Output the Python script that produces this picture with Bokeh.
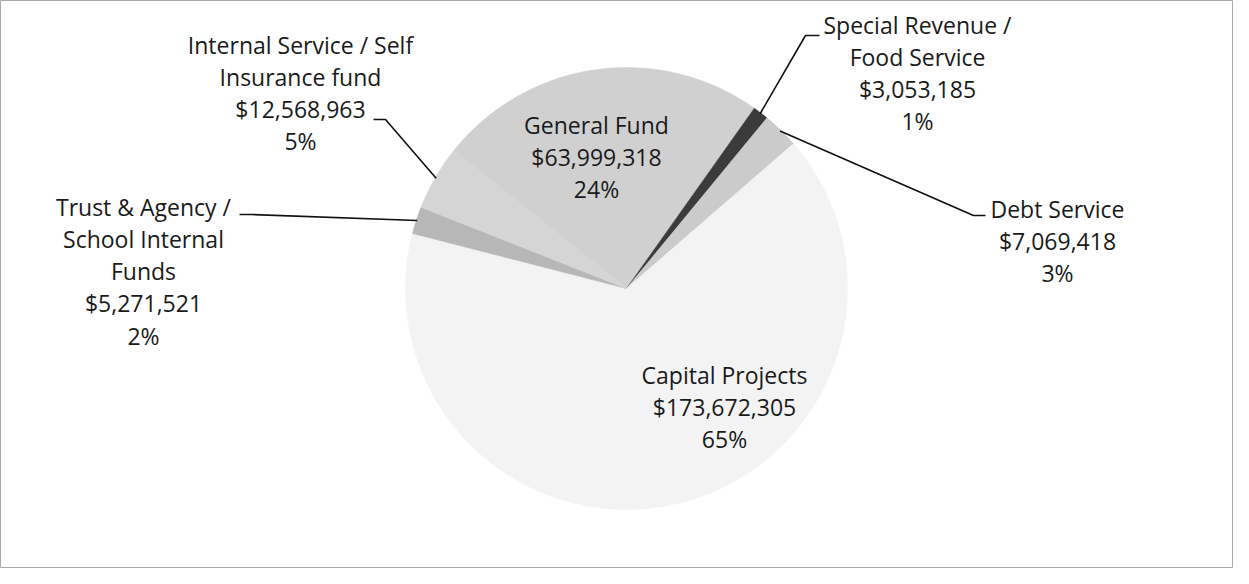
import numpy as np
from bokeh.plotting import figure
from bokeh.models import Range1d
from bokeh.core.properties import value
from bokeh.embed import file_html
from bokeh.resources import INLINE

# ---- data ----
categories = [
    "General Fund",
    "Special Revenue /\nFood Service",
    "Debt Service",
    "Capital Projects",
    "Trust & Agency /\nSchool Internal\nFunds",
    "Internal Service / Self\nInsurance fund",
]
amounts = [63999318, 3053185, 7069418, 173672305, 5271521, 12568963]
colors = ["#d0d0d0", "#3b3b3b", "#cbcbcb", "#f3f3f3", "#b7b7b7", "#d5d5d5"]

# ---- layout constants (pixel-like data coordinates) ----
W, H = 1233, 568
CX, CY, R = 634, 296, 221
START_DEG = -51.4          # clockwise from 12 o'clock
FONT = "Open Sans"
FSIZE = "23px"
LINE_H = 32.3
label_pos = [(604, 132), (925, 32), (1065, 216), (732, 382), (151, 214), (308, 52)]
# leader elbows (tick start, tick end) for outside labels, None for inside ones
leader_ticks = [None, ((827, 43), (813, 43)), ((993, 223), (981, 223)), None,
                ((247, 222), (259, 222)), ((381, 127), (393, 127))]

p = figure(width=W, height=H, output_backend="svg", toolbar_location=None,
           x_range=Range1d(8, 8 + W), y_range=Range1d(8 + H, 8),
           min_border=0)
p.axis.visible = False
p.grid.visible = False
p.outline_line_color = "#a8a8a8"
p.outline_line_width = 1
p.background_fill_color = "white"
p.border_fill_color = "white"

total = float(sum(amounts))
fracs = np.array(amounts) / total
ends = START_DEG + 360 * np.cumsum(fracs)
starts = ends - 360 * fracs

xs, ys = [], []
for s, e in zip(starts, ends):
    t = np.radians(np.linspace(s, e, max(int(abs(e - s) * 2), 3)))
    xs.append([CX] + list(CX + R * np.sin(t)) + [CX])
    ys.append([CY] + list(CY - R * np.cos(t)) + [CY])
p.patches(xs, ys, fill_color=colors, line_color=colors, line_width=0.5)

# leader lines
for i, tick in enumerate(leader_ticks):
    if tick is None:
        continue
    mid = np.radians((starts[i] + ends[i]) / 2)
    px, py = CX + (R - 1) * np.sin(mid), CY - (R - 1) * np.cos(mid)
    (x0, y0), (x1, y1) = tick
    p.line([x0, x1, px], [y0, y1, py], line_color="#111111", line_width=1.6)

# labels
tx, ty, tt = [], [], []
for i, name in enumerate(categories):
    pct = round(amounts[i] / total * 100)
    lines = name.split("\n") + ["${:,}".format(amounts[i]), f"{pct}%"]
    x0, y0 = label_pos[i]
    for k, ln in enumerate(lines):
        tx.append(x0)
        ty.append(y0 + k * LINE_H)
        tt.append(ln)
p.text(tx, ty, text=tt, text_align="center", text_baseline="middle",
       text_font=value(FONT), text_font_size=FSIZE, text_color="#1a1a1a")

open("out.html", "w").write(file_html(p, INLINE))
